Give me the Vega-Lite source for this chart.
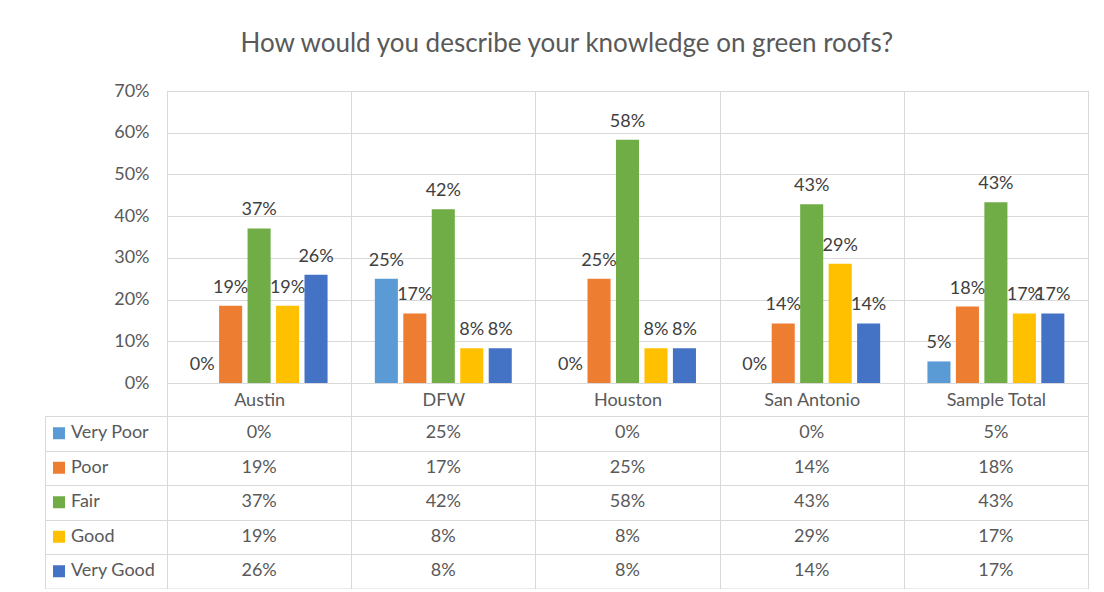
{
  "$schema": "https://vega.github.io/schema/vega-lite/v6.json",
  "padding": {"left": 44, "top": 30, "right": 5, "bottom": 0},
  "background": "white",
  "title": {"text": "How would you describe your knowledge on green roofs?", "fontSize": 26, "font": "Lato", "fontWeight": "normal", "color": "#595959", "anchor": "middle", "offset": 25},
  "config": {
    "view": {"stroke": "#d9d9d9", "strokeWidth": 1},
    "font": "Lato",
    "axis": {"gridColor": "#d9d9d9", "gridWidth": 1, "labelFont": "Lato", "labelFontSize": 18, "labelColor": "#595959"}
  },
  "data": {"values": [
    {"city": "Austin", "level": "Very Poor", "value": 0},
    {"city": "Austin", "level": "Poor", "value": 0.1852},
    {"city": "Austin", "level": "Fair", "value": 0.3704},
    {"city": "Austin", "level": "Good", "value": 0.1852},
    {"city": "Austin", "level": "Very Good", "value": 0.2593},
    {"city": "DFW", "level": "Very Poor", "value": 0.25},
    {"city": "DFW", "level": "Poor", "value": 0.1667},
    {"city": "DFW", "level": "Fair", "value": 0.4167},
    {"city": "DFW", "level": "Good", "value": 0.0833},
    {"city": "DFW", "level": "Very Good", "value": 0.0833},
    {"city": "Houston", "level": "Very Poor", "value": 0},
    {"city": "Houston", "level": "Poor", "value": 0.25},
    {"city": "Houston", "level": "Fair", "value": 0.5833},
    {"city": "Houston", "level": "Good", "value": 0.0833},
    {"city": "Houston", "level": "Very Good", "value": 0.0833},
    {"city": "San Antonio", "level": "Very Poor", "value": 0},
    {"city": "San Antonio", "level": "Poor", "value": 0.1429},
    {"city": "San Antonio", "level": "Fair", "value": 0.4286},
    {"city": "San Antonio", "level": "Good", "value": 0.2857},
    {"city": "San Antonio", "level": "Very Good", "value": 0.1429},
    {"city": "Sample Total", "level": "Very Poor", "value": 0.0517},
    {"city": "Sample Total", "level": "Poor", "value": 0.1833},
    {"city": "Sample Total", "level": "Fair", "value": 0.4333},
    {"city": "Sample Total", "level": "Good", "value": 0.1667},
    {"city": "Sample Total", "level": "Very Good", "value": 0.1667}
  ]},
  "columns": 2,
  "bounds": "flush",
  "spacing": {"row": 33, "column": 0},
  "concat": [
    {
      "width": 122,
      "height": 292,
      "data": {"values": []},
      "mark": {"type": "point", "opacity": 0},
      "view": {"stroke": null}
    },
    {
      "width": 921,
      "height": 292,
      "encoding": {
        "x": {"field": "city", "type": "nominal", "sort": ["Austin", "DFW", "Houston", "San Antonio", "Sample Total"],
              "scale": {"paddingInner": 0, "paddingOuter": 0},
              "axis": {"title": null, "orient": "bottom", "domain": false, "grid": true, "tickBand": "extent", "ticks": true, "tickColor": "#d9d9d9", "tickSize": 33, "labelPadding": -16, "labelBaseline": "middle", "labelAngle": 0}},
        "xOffset": {"field": "level", "type": "nominal", "sort": ["Very Poor", "Poor", "Fair", "Good", "Very Good"],
                    "scale": {"paddingInner": 0.19, "paddingOuter": 0.83}},
        "y": {"field": "value", "type": "quantitative", "scale": {"domain": [0, 0.7]},
              "axis": {"title": null, "format": ".0%", "values": [0, 0.1, 0.2, 0.3, 0.4, 0.5, 0.6, 0.7], "domain": false, "ticks": false, "labelPadding": 18}}
      },
      "layer": [
        {"mark": {"type": "bar"},
         "encoding": {"color": {"field": "level", "type": "nominal", "sort": ["Very Poor", "Poor", "Fair", "Good", "Very Good"],
                                "scale": {"domain": ["Very Poor", "Poor", "Fair", "Good", "Very Good"], "range": ["#5B9BD5", "#ED7D31", "#70AD47", "#FFC000", "#4472C4"]}, "legend": null}}},
        {"mark": {"type": "text", "baseline": "bottom", "dy": -9, "fontSize": 18, "color": "#404040"},
         "encoding": {"text": {"field": "value", "type": "quantitative", "format": ".0%"}}}
      ]
    },
    {
      "width": 122,
      "height": 172.5,
      "transform": [{"filter": "datum.city === 'Austin'"}],
      "encoding": {
        "y": {"field": "level", "type": "nominal", "sort": ["Very Poor", "Poor", "Fair", "Good", "Very Good"], "scale": {"paddingInner": 0, "paddingOuter": 0},
              "axis": {"title": null, "labels": false, "ticks": false, "domain": false, "grid": true, "tickBand": "extent"}}
      },
      "layer": [
        {"mark": {"type": "point", "shape": "square", "filled": true, "opacity": 1, "size": 144, "xOffset": -47},
         "encoding": {"color": {"field": "level", "type": "nominal", "legend": null}}},
        {"mark": {"type": "text", "align": "left", "dx": -35, "fontSize": 18, "color": "#595959"},
         "encoding": {"text": {"field": "level", "type": "nominal"}}}
      ]
    },
    {
      "width": 921,
      "height": 172.5,
      "mark": {"type": "text", "fontSize": 18, "color": "#595959"},
      "encoding": {
        "x": {"field": "city", "type": "nominal", "sort": ["Austin", "DFW", "Houston", "San Antonio", "Sample Total"], "scale": {"paddingInner": 0, "paddingOuter": 0},
              "axis": {"title": null, "labels": false, "ticks": false, "domain": false, "grid": true, "tickBand": "extent", "orient": "top"}},
        "y": {"field": "level", "type": "nominal", "sort": ["Very Poor", "Poor", "Fair", "Good", "Very Good"], "scale": {"paddingInner": 0, "paddingOuter": 0},
              "axis": {"title": null, "labels": false, "ticks": false, "domain": false, "grid": true, "tickBand": "extent"}},
        "text": {"field": "value", "type": "quantitative", "format": ".0%"}
      }
    }
  ]
}
